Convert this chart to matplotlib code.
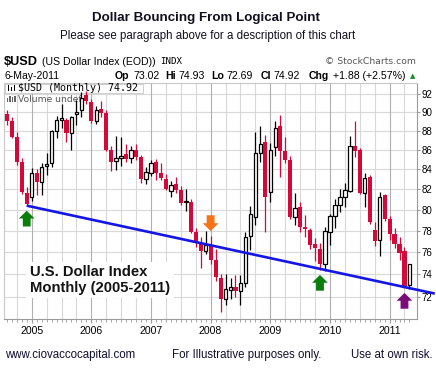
import numpy as np
import pandas as pd
import matplotlib
matplotlib.use("Agg")
import matplotlib.pyplot as plt
from matplotlib.patches import Rectangle

plt.rcParams['font.family'] = ['Liberation Sans', 'DejaVu Sans']

# monthly candles Aug 2004 .. May 2011
months = pd.period_range("2004-08", "2011-05", freq="M")
opens = [89.8, 89.0, 87.4, 84.8, 81.6,
         81.2, 83.6, 82.7, 84.3, 84.6, 88.0, 89.2, 89.2, 87.8, 89.8, 90.2, 91.9,
         91.1, 89.0, 90.3, 89.9, 86.0, 84.9, 85.2, 85.6, 85.2, 86.0, 85.3, 83.0,
         83.6, 84.7, 83.6, 83.0, 81.8, 82.5, 81.9, 80.8, 80.8, 77.9, 76.9, 76.1,
         76.7, 75.3, 73.7, 71.8, 72.6, 72.9, 72.5, 73.2, 77.5, 79.3, 85.7, 86.8,
         81.7, 86.3, 88.5, 85.9, 85.0, 79.3, 80.3, 78.4, 78.1, 76.8, 76.3, 74.9,
         77.9, 79.4, 80.5, 81.2, 81.8, 86.4, 86.0, 81.6, 83.2, 78.1, 77.1, 81.4,
         79.1, 77.7, 76.8, 76.1, 73.02]
highs = [90.2, 89.5, 87.9, 85.2, 82.2,
         84.1, 84.0, 84.6, 85.7, 88.1, 89.6, 90.9, 89.4, 89.6, 91.3, 92.2, 92.3,
         91.4, 90.7, 91.2, 90.2, 86.4, 87.5, 87.4, 86.6, 86.4, 86.6, 85.5, 84.2,
         85.0, 85.1, 84.6, 83.5, 82.8, 83.2, 82.3, 82.0, 81.0, 78.3, 77.4, 78.0,
         77.5, 76.3, 74.0, 74.0, 73.7, 73.9, 73.9, 77.9, 80.4, 87.9, 88.5, 87.6,
         86.7, 89.1, 89.7, 87.4, 85.4, 81.6, 80.8, 79.5, 78.3, 77.3, 76.9, 78.4,
         79.6, 81.0, 82.0, 82.6, 87.5, 89.0, 86.2, 83.6, 83.4, 78.8, 81.7, 81.5,
         79.4, 78.3, 77.4, 76.5, 74.93]
lows = [88.6, 87.2, 84.4, 81.5, 80.4,
        80.9, 81.4, 81.4, 83.4, 84.2, 87.2, 88.3, 86.8, 86.0, 88.6, 89.5, 90.9,
        88.8, 88.7, 89.5, 85.9, 83.8, 83.9, 84.3, 84.7, 84.6, 85.0, 82.6, 82.5,
        83.3, 82.9, 82.9, 81.9, 81.2, 81.6, 80.5, 79.9, 77.8, 76.5, 74.6, 75.8,
        74.9, 73.4, 70.7, 71.3, 71.8, 72.0, 71.3, 72.9, 76.2, 78.5, 84.8, 77.9,
        80.8, 85.4, 83.2, 84.6, 79.1, 78.5, 77.9, 77.4, 76.3, 75.2, 74.4, 74.3,
        76.7, 78.3, 79.8, 80.3, 81.7, 85.3, 81.5, 80.3, 78.6, 76.6, 75.7, 78.9,
        77.1, 76.4, 75.3, 72.8, 72.69]
closes = [89.0, 87.4, 84.7, 81.7, 80.6,
          83.6, 82.7, 84.2, 84.5, 88.0, 89.2, 89.4, 87.8, 89.5, 90.0, 91.6, 91.2,
          89.0, 90.2, 89.9, 86.0, 84.7, 85.2, 85.4, 85.1, 86.0, 85.3, 83.0, 83.7,
          84.6, 83.6, 83.1, 82.0, 82.4, 81.9, 80.7, 80.9, 77.9, 76.9, 76.1, 76.7,
          75.3, 73.8, 71.8, 72.7, 72.9, 72.5, 73.2, 77.4, 79.6, 85.7, 86.6, 81.2,
          86.0, 88.3, 85.9, 85.0, 79.3, 80.2, 78.4, 78.2, 76.7, 76.4, 74.9, 78.0,
          79.4, 80.5, 81.2, 81.9, 86.4, 85.9, 81.6, 83.1, 78.8, 77.0, 81.2, 79.1,
          77.7, 76.8, 75.9, 73.0, 74.92]

y_ticks = [72, 74, 76, 78, 80, 82, 84, 86, 88, 90, 92]

# hand drawn trend line: Dec 2004 low, running off the right edge
trend_x = [4, 86.1]
trend_y = [80.4, 72.3]

# marker arrows: month index, direction, colour
arrow_idx = [4, 41, 63, 80]
arrow_dir = ["up", "down", "up", "up"]
arrow_col = ["#0b7d0b", "#f57418", "#0b7d0b", "#7a0c7a"]

RED = "#d3093b"
W, H = 436, 374

fig = plt.figure(figsize=(W / 100, H / 100), dpi=100)


def fx(x):
    return x / W


def fy(y):
    return 1 - y / H


ax = fig.add_axes([fx(4), fy(319.3), (416.7 - 4) / W, (319.3 - 83.3) / H])
ax.set_yscale("log")
ax.set_xlim(-0.57, 82.46)
ax.set_ylim(70.09, 93.2)

idx = np.arange(len(months))
o = np.array(opens)
c = np.array(closes)
hi = np.array(highs)
lo = np.array(lows)
up = c >= o

# grid
for v in y_ticks:
    ax.axhline(v, color="#d8d8d8", lw=0.8, zorder=0)
for i, m in enumerate(months):
    if m.month in (1, 4, 7, 10):
        col = "#b0b0b0" if m.month == 1 else "#d8d8d8"
        ax.axvline(i, color=col, lw=0.8, zorder=0)

# candles
ax.vlines(idx[up], lo[up], hi[up], color="black", lw=0.9, zorder=3)
ax.vlines(idx[~up], lo[~up], hi[~up], color=RED, lw=0.9, zorder=3)
ax.bar(idx[up], np.maximum((c - o)[up], 0.08), bottom=o[up], width=0.7,
       facecolor="white", edgecolor="black", lw=0.9, zorder=4)
ax.bar(idx[~up], (o - c)[~up], bottom=c[~up], width=0.82,
       color=RED, lw=0, zorder=4)

# trend line
ax.plot(trend_x, trend_y, color="#1515e6", lw=1.9, zorder=5,
        clip_on=False, solid_capstyle="butt")

# arrows
for i, d, col in zip(arrow_idx, arrow_dir, arrow_col):
    if d == "up":
        xy, off = (i, lows[i]), -15.0
    else:
        xy, off = (i, highs[i]), 15.0
    ax.annotate("", xy=xy, xytext=(0, off), textcoords="offset points",
                arrowprops=dict(arrowstyle="simple,head_length=0.5,head_width=1.0,tail_width=0.5",
                                mutation_scale=11.3, fc=col, ec="none",
                                shrinkA=0, shrinkB=3.6), zorder=6)

# axes styling
for s in ["top", "left"]:
    ax.spines[s].set_color("#c8c8c8")
for s in ["bottom", "right"]:
    ax.spines[s].set_color("#9a9a9a")
ax.yaxis.tick_right()
ax.set_yticks(y_ticks)
ax.set_yticklabels([str(v) for v in y_ticks])
ax.yaxis.set_minor_locator(matplotlib.ticker.NullLocator())
ax.tick_params(axis="y", length=2, pad=1.5, labelsize=7, color="#9a9a9a")

year_idx = [i for i, m in enumerate(months) if m.month == 1]
ax.set_xticks(year_idx)
ax.set_xticklabels([str(months[i].year) for i in year_idx])
ax.set_xticks(idx, minor=True)
ax.tick_params(axis="x", which="major", length=3, pad=2, labelsize=7.6, color="#9a9a9a")
ax.tick_params(axis="x", which="minor", length=1.8, color="#9a9a9a")

# legend inside the plot
ax.add_patch(Rectangle((fx(4.5), fy(92.5)), (143 - 4.5) / W, (92.5 - 83.8) / H,
                       transform=fig.transFigure, facecolor="white",
                       edgecolor="#c8c8c8", lw=0.6, zorder=2.5, clip_on=False))
for k, (bx, bh) in enumerate([(7.5, 6), (10.5, 4), (13.5, 6)]):
    ax.add_patch(Rectangle((fx(bx), fy(91)), 1.8 / W, bh / H, transform=fig.transFigure,
                           facecolor="black", lw=0, zorder=6, clip_on=False))
ax.text(fx(18), fy(88.3), "$USD (Monthly) 74.92", transform=fig.transFigure,
        family="DejaVu Sans Mono", fontsize=7.2, va="center", ha="left", zorder=6)
for bx, bh in [(6.5, 4), (9, 6), (11.5, 5), (14, 6)]:
    ax.add_patch(Rectangle((fx(bx), fy(102)), 1.6 / W, bh / H, transform=fig.transFigure,
                           facecolor="#666666", lw=0, zorder=2.6, clip_on=False))
ax.text(fx(17.5), fy(99), "Volume undef", transform=fig.transFigure,
        family="DejaVu Sans", fontsize=6.6, color="#555555", va="center",
        ha="left", zorder=2.6)

# big label
fig.text(fx(30), fy(280), "U.S. Dollar Index\nMonthly (2005-2011)", fontsize=10.6,
         fontweight="bold", color="#141414", va="center", ha="left", linespacing=1.15,
         bbox=dict(facecolor="white", edgecolor="none", pad=2.5), zorder=7)

# titles
fig.text(fx(206), fy(18.3), "Dollar Bouncing From Logical Point", fontsize=9.6,
         fontweight="bold", ha="center", va="center", color="#101020")
fig.text(fx(208), fy(36), "Please see paragraph above for a description of this chart",
         fontsize=8.3, ha="center", va="center", color="#101020")

# stockcharts header
fig.text(fx(4), fy(62), "$USD", fontsize=9.2, fontweight="bold", ha="left", va="center")
fig.text(fx(41.5), fy(62), "(US Dollar Index (EOD))", fontsize=7.6, ha="left", va="center")
fig.text(fx(160), fy(62), "INDX", family="DejaVu Sans Mono", fontsize=6.6,
         ha="left", va="center")
fig.text(fx(416), fy(62), "\u00a9 StockCharts.com", family="DejaVu Sans", fontsize=6.7,
         color="#555555", ha="right", va="center")
fig.text(fx(4), fy(76), "6-May-2011", fontsize=7.5, ha="left", va="center")
quote = [(115, "Op", True), (133, "73.02", False), (165.5, "Hi", True),
         (178, "74.93", False), (211.5, "Lo", True), (226.5, "72.69", False),
         (261, "Cl", True), (273, "74.92", False), (309, "Chg", True),
         (333, "+1.88 (+2.57%)", False)]
for qx, s, b in quote:
    fig.text(fx(qx), fy(76), s, fontsize=7.6, fontweight="bold" if b else "normal",
             ha="left", va="center")
fig.text(fx(412.5), fy(76), "\u25b2", family="DejaVu Sans", fontsize=5, color="#1a8a2a",
         ha="center", va="center")

# footer
fig.text(fx(5), fy(355), "www.ciovaccocapital.com", fontsize=8.3, ha="left",
         va="center", color="#101030")
fig.text(fx(172), fy(355), "For Illustrative purposes only.", fontsize=8.3, ha="left",
         va="center", color="#101030")
fig.text(fx(433), fy(355), "Use at own risk.", fontsize=8.3, ha="right",
         va="center", color="#101030")

fig.savefig("out.png", dpi=100)
